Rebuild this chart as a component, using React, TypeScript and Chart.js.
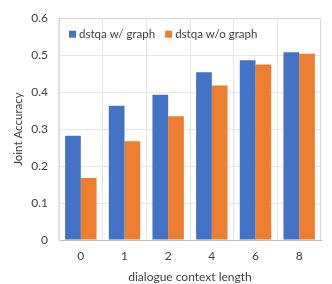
import React, { useEffect, useRef } from "react";
import { Chart, registerables } from "chart.js";

Chart.register(...registerables);

const categories = ["0", "1", "2", "4", "6", "8"];
const withGraph = [0.282, 0.363, 0.393, 0.454, 0.486, 0.508];
const withoutGraph = [0.168, 0.267, 0.335, 0.418, 0.475, 0.504];
const seriesNames = ["dstqa w/ graph", "dstqa w/o graph"];
const colors = ["#4472C4", "#ED7D31"];
const FONT = "Lato, 'Open Sans', sans-serif";

const legendPlugin = {
  id: "insideLegend",
  afterDraw(chart: any) {
    const ctx = chart.ctx;
    const area = chart.chartArea;
    ctx.save();
    ctx.font = `11.5px ${FONT}`;
    ctx.textBaseline = "middle";
    ctx.textAlign = "left";
    let x = area.left + 10;
    const y = area.top + 16;
    seriesNames.forEach((name, i) => {
      ctx.fillStyle = colors[i];
      ctx.fillRect(x, y - 3.5, 7, 7);
      ctx.fillStyle = "#404040";
      ctx.fillText(name, x + 10, y);
      x += 10 + ctx.measureText(name).width + 10;
    });
    ctx.restore();
  },
};

export default function App() {
  const ref = useRef<HTMLCanvasElement>(null);
  useEffect(() => {
    document.body.style.margin = "0";
    const chart = new Chart(ref.current!, {
      type: "bar",
      data: {
        labels: categories,
        datasets: [
          { label: seriesNames[0], data: withGraph, backgroundColor: colors[0], categoryPercentage: 0.72, barPercentage: 1 },
          { label: seriesNames[1], data: withoutGraph, backgroundColor: colors[1], categoryPercentage: 0.72, barPercentage: 1 },
        ],
      },
      options: {
        animation: false,
        responsive: false,
        layout: { padding: { left: 0, top: 9, right: 11, bottom: 0 } },
        plugins: { legend: { display: false }, tooltip: { enabled: false } },
        scales: {
          x: {
            grid: { color: "#e6e6e6", offset: true, drawTicks: false },
            border: { color: "#bfbfbf", width: 1 },
            ticks: { color: "#404040", font: { family: FONT, size: 12 }, padding: 9 },
            title: { display: true, text: "dialogue context length", color: "#404040", font: { family: FONT, size: 12 }, padding: { top: 1, bottom: 0 } },
            afterFit(scale: any) { scale.height = 44; },
          },
          y: {
            min: 0,
            max: 0.6,
            grid: { color: "#e6e6e6", drawTicks: false },
            border: { color: "#d9d9d9", width: 1 },
            ticks: { stepSize: 0.1, color: "#404040", font: { family: FONT, size: 12 }, padding: 11, callback: (v: any) => (Math.round(Number(v) * 10) / 10).toString() },
            title: { display: true, text: "Joint Accuracy", color: "#404040", font: { family: FONT, size: 11.5 }, padding: { top: 11, bottom: 4 } },
            afterFit(scale: any) { scale.width = 59; },
          },
        },
      },
      plugins: [
        legendPlugin,
        {
          id: "frame",
          afterDraw(chart: any) {
            const { ctx, chartArea: a } = chart;
            ctx.save();
            ctx.strokeStyle = "#d9d9d9";
            ctx.lineWidth = 1;
            ctx.beginPath();
            ctx.moveTo(a.left, a.top + 0.5);
            ctx.lineTo(a.right - 0.5, a.top + 0.5);
            ctx.lineTo(a.right - 0.5, a.bottom);
            ctx.stroke();
            ctx.restore();
          },
        },
      ],
    });
    return () => chart.destroy();
  }, []);
  return (
    <div style={{ width: 332, height: 284 }}>
      <canvas ref={ref} width={332} height={284} />
    </div>
  );
}
